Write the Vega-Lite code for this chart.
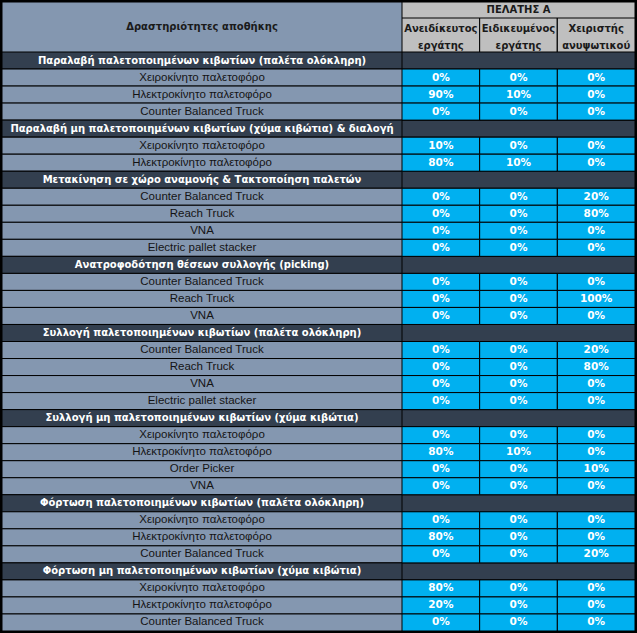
{
  "$schema": "https://vega.github.io/schema/vega-lite/v6.json",
  "background": "#000000",
  "padding": {"left": 2, "top": 2, "right": 2, "bottom": 2},
  "config": {"view": {"stroke": null}, "concat": {"spacing": 0}},
  "datasets": {
    "rows": [
      {"r": 1, "kind": "section", "label": "Παραλαβή παλετοποιημένων κιβωτίων (παλέτα ολόκληρη)"},
      {"r": 2, "kind": "item", "label": "Χειροκίνητο παλετοφόρο", "a": 0, "b": 0, "c": 0},
      {"r": 3, "kind": "item", "label": "Ηλεκτροκίνητο  παλετοφόρο", "a": 0.9, "b": 0.1, "c": 0},
      {"r": 4, "kind": "item", "label": "Counter Balanced Truck", "a": 0, "b": 0, "c": 0},
      {"r": 5, "kind": "section", "label": "Παραλαβή μη παλετοποιημένων κιβωτίων (χύμα κιβώτια) & διαλογή"},
      {"r": 6, "kind": "item", "label": "Χειροκίνητο παλετοφόρο", "a": 0.1, "b": 0, "c": 0},
      {"r": 7, "kind": "item", "label": "Ηλεκτροκίνητο  παλετοφόρο", "a": 0.8, "b": 0.1, "c": 0},
      {"r": 8, "kind": "section", "label": "Μετακίνηση σε χώρο αναμονής & Τακτοποίηση παλετών"},
      {"r": 9, "kind": "item", "label": "Counter Balanced Truck", "a": 0, "b": 0, "c": 0.2},
      {"r": 10, "kind": "item", "label": "Reach Truck", "a": 0, "b": 0, "c": 0.8},
      {"r": 11, "kind": "item", "label": "VNA", "a": 0, "b": 0, "c": 0},
      {"r": 12, "kind": "item", "label": "Electric pallet stacker", "a": 0, "b": 0, "c": 0},
      {"r": 13, "kind": "section", "label": "Ανατροφοδότηση θέσεων συλλογής (picking)"},
      {"r": 14, "kind": "item", "label": "Counter Balanced Truck", "a": 0, "b": 0, "c": 0},
      {"r": 15, "kind": "item", "label": "Reach Truck", "a": 0, "b": 0, "c": 1},
      {"r": 16, "kind": "item", "label": "VNA", "a": 0, "b": 0, "c": 0},
      {"r": 17, "kind": "section", "label": "Συλλογή παλετοποιημένων κιβωτίων (παλέτα ολόκληρη)"},
      {"r": 18, "kind": "item", "label": "Counter Balanced Truck", "a": 0, "b": 0, "c": 0.2},
      {"r": 19, "kind": "item", "label": "Reach Truck", "a": 0, "b": 0, "c": 0.8},
      {"r": 20, "kind": "item", "label": "VNA", "a": 0, "b": 0, "c": 0},
      {"r": 21, "kind": "item", "label": "Electric pallet stacker", "a": 0, "b": 0, "c": 0},
      {"r": 22, "kind": "section", "label": "Συλλογή μη παλετοποιημένων κιβωτίων (χύμα κιβώτια)"},
      {"r": 23, "kind": "item", "label": "Χειροκίνητο παλετοφόρο", "a": 0, "b": 0, "c": 0},
      {"r": 24, "kind": "item", "label": "Ηλεκτροκίνητο  παλετοφόρο", "a": 0.8, "b": 0.1, "c": 0},
      {"r": 25, "kind": "item", "label": "Order Picker", "a": 0, "b": 0, "c": 0.1},
      {"r": 26, "kind": "item", "label": "VNA", "a": 0, "b": 0, "c": 0},
      {"r": 27, "kind": "section", "label": "Φόρτωση παλετοποιημένων κιβωτίων (παλέτα ολόκληρη)"},
      {"r": 28, "kind": "item", "label": "Χειροκίνητο παλετοφόρο", "a": 0, "b": 0, "c": 0},
      {"r": 29, "kind": "item", "label": "Ηλεκτροκίνητο  παλετοφόρο", "a": 0.8, "b": 0, "c": 0},
      {"r": 30, "kind": "item", "label": "Counter Balanced Truck", "a": 0, "b": 0, "c": 0.2},
      {"r": 31, "kind": "section", "label": "Φόρτωση μη παλετοποιημένων κιβωτίων (χύμα κιβώτια)"},
      {"r": 32, "kind": "item", "label": "Χειροκίνητο παλετοφόρο", "a": 0.8, "b": 0, "c": 0},
      {"r": 33, "kind": "item", "label": "Ηλεκτροκίνητο  παλετοφόρο", "a": 0.2, "b": 0, "c": 0},
      {"r": 34, "kind": "item", "label": "Counter Balanced Truck", "a": 0, "b": 0, "c": 0}
    ],
    "cols": [
      {"col": "a", "line": 1, "name": "Ανειδίκευτος"},
      {"col": "a", "line": 2, "name": "εργάτης"},
      {"col": "b", "line": 1, "name": "Ειδικευμένος"},
      {"col": "b", "line": 2, "name": "εργάτης"},
      {"col": "c", "line": 1, "name": "Χειριστής"},
      {"col": "c", "line": 2, "name": "ανυψωτικού"}
    ]
  },
  "vconcat": [
    {
      "hconcat": [
        {
          "width": 400,
          "height": 50,
          "data": {"values": [{"t": "Δραστηριότητες αποθήκης"}]},
          "layer": [
            {
              "mark": {"type": "rect", "fill": "#8497B0", "stroke": "#000000", "strokeWidth": 1, "clip": true},
              "encoding": {"y": {"field": "t", "type": "nominal", "axis": null, "scale": {"paddingInner": 0, "paddingOuter": 0}}}
            },
            {
              "mark": {"type": "text", "font": "DejaVu Sans", "fontWeight": "bold", "fontSize": 10, "color": "#1a1a1a", "baseline": "middle", "align": "center", "clip": true},
              "encoding": {"text": {"field": "t"}}
            }
          ]
        },
        {
          "vconcat": [
            {
              "width": 233,
              "height": 16,
              "data": {"values": [{"t": "ΠΕΛΑΤΗΣ Α"}]},
              "layer": [
                {
                  "mark": {"type": "rect", "fill": "#BFBFBF", "stroke": "#000000", "strokeWidth": 1, "clip": true},
                  "encoding": {"y": {"field": "t", "type": "nominal", "axis": null, "scale": {"paddingInner": 0, "paddingOuter": 0}}}
                },
                {
                  "mark": {"type": "text", "font": "DejaVu Sans", "fontWeight": "bold", "fontSize": 10, "color": "#1a1a1a", "baseline": "middle", "align": "center", "clip": true},
                  "encoding": {"text": {"field": "t"}}
                }
              ]
            },
            {
              "width": 233,
              "height": 34,
              "data": {"name": "cols"},
              "layer": [
                {
                  "mark": {"type": "rect", "fill": "#BFBFBF", "stroke": "#000000", "strokeWidth": 1, "clip": true},
                  "encoding": {"x": {"field": "col", "type": "nominal", "axis": null, "scale": {"paddingInner": 0, "paddingOuter": 0}}}
                },
                {
                  "mark": {"type": "text", "font": "DejaVu Sans", "fontWeight": "bold", "fontSize": 10, "color": "#1a1a1a", "baseline": "middle", "align": "center", "dy": 2.5, "clip": true},
                  "encoding": {
                    "x": {"field": "col", "type": "nominal", "axis": null},
                    "y": {"field": "line", "type": "ordinal", "axis": null, "scale": {"paddingInner": 0, "paddingOuter": 0}},
                    "text": {"field": "name"}
                  }
                }
              ]
            }
          ],
          "spacing": 0
        }
      ],
      "spacing": 0
    },
    {
      "hconcat": [
        {
          "width": 400,
          "height": 579,
          "data": {"name": "rows"},
          "encoding": {"y": {"field": "r", "type": "ordinal", "axis": null, "scale": {"paddingInner": 0, "paddingOuter": 0}}},
          "layer": [
            {
              "mark": {"type": "rect", "stroke": "#000000", "strokeWidth": 1, "clip": true},
              "encoding": {
                "fill": {"field": "kind", "type": "nominal", "legend": null, "scale": {"domain": ["section", "item"], "range": ["#333F4F", "#8497B0"]}}
              }
            },
            {
              "transform": [{"filter": "datum.kind == 'item'"}],
              "mark": {"type": "text", "font": "Liberation Sans", "fontSize": 11.5, "color": "#141414", "baseline": "middle", "align": "center", "clip": true},
              "encoding": {"text": {"field": "label"}}
            },
            {
              "transform": [{"filter": "datum.kind == 'section'"}],
              "mark": {"type": "text", "font": "DejaVu Sans", "fontWeight": "bold", "fontSize": 10, "color": "#FFFFFF", "baseline": "middle", "align": "center", "clip": true},
              "encoding": {"text": {"field": "label"}}
            }
          ]
        },
        {
          "width": 233,
          "height": 579,
          "data": {"name": "rows"},
          "encoding": {"y": {"field": "r", "type": "ordinal", "axis": null, "scale": {"paddingInner": 0, "paddingOuter": 0}}},
          "layer": [
            {
              "transform": [{"filter": "datum.kind == 'section'"}],
              "mark": {"type": "rect", "fill": "#333F4F", "stroke": "#000000", "strokeWidth": 1, "clip": true},
              "encoding": {}
            },
            {
              "transform": [{"filter": "datum.kind == 'item'"}, {"fold": ["a", "b", "c"], "as": ["col", "val"]}],
              "mark": {"type": "rect", "fill": "#00B0F0", "stroke": "#000000", "strokeWidth": 1, "clip": true},
              "encoding": {"x": {"field": "col", "type": "nominal", "axis": null, "scale": {"paddingInner": 0, "paddingOuter": 0}}}
            },
            {
              "transform": [{"filter": "datum.kind == 'item'"}, {"fold": ["a", "b", "c"], "as": ["col", "val"]}],
              "mark": {"type": "text", "font": "DejaVu Sans", "fontWeight": "bold", "fontSize": 10.5, "color": "#FFFFFF", "baseline": "middle", "align": "center", "clip": true},
              "encoding": {
                "x": {"field": "col", "type": "nominal", "axis": null},
                "text": {"field": "val", "type": "quantitative", "format": ".0%"}
              }
            }
          ]
        }
      ],
      "spacing": 0
    }
  ],
  "spacing": 0
}
